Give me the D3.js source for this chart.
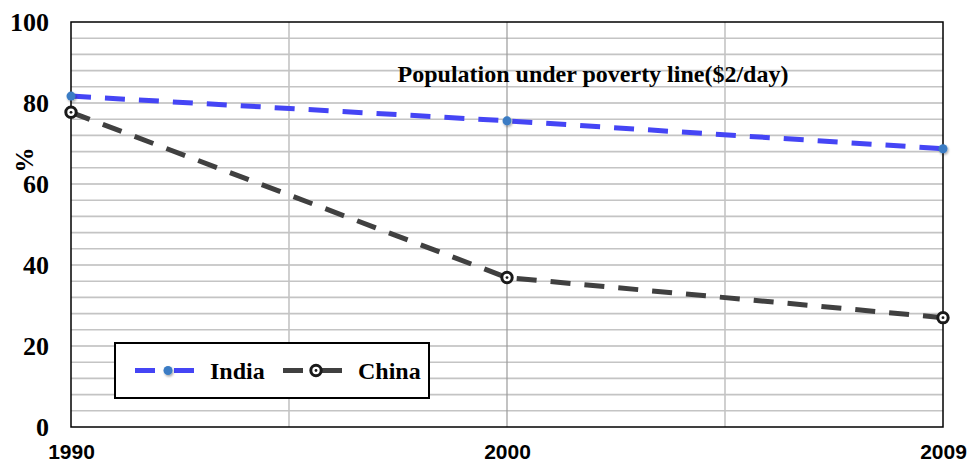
<!DOCTYPE html>
<html>
<head>
<meta charset="utf-8">
<script src="https://cdn.jsdelivr.net/npm/d3@7/dist/d3.min.js"></script>
<style>
  html, body { margin: 0; padding: 0; background: #fff; }
  svg { display: block; }
</style>
</head>
<body>
<svg id="chart" width="969" height="463"></svg>
<script>
// Share of population living under $2/day (%)
const years = ["1990", "2000", "2009"];
const india = [81.7, 75.6, 68.7];
const china = [77.7, 36.9, 27.0];
const yTicks = [0, 20, 40, 60, 80, 100];
const seriesNames = ["India", "China"];

const svg = d3.select("#chart");
const margin = { left: 71, right: 26, top: 22, bottom: 36 };
const W = 969, H = 463;
const x0 = margin.left, x1 = W - margin.right;
const y0 = H - margin.bottom, y1 = margin.top;

const serif = "'Liberation Serif', 'Times New Roman', serif";
const sans = "'Liberation Sans', Arial, sans-serif";

const x = d3.scalePoint().domain(years).range([x0, x1]);
const y = d3.scaleLinear().domain([0, 100]).range([y0, y1]);

// minor horizontal grid every 4%
const minor = d3.range(4, 100, 4).filter(v => v % 20 !== 0);
svg.append("g").selectAll("line").data(minor).join("line")
  .attr("x1", x0).attr("x2", x1)
  .attr("y1", d => y(d)).attr("y2", d => y(d))
  .attr("stroke", "#c4c4c4").attr("stroke-width", 1.6);

// major horizontal grid
svg.append("g").selectAll("line").data(yTicks.filter(v => v > 0 && v < 100)).join("line")
  .attr("x1", x0).attr("x2", x1)
  .attr("y1", d => y(d)).attr("y2", d => y(d))
  .attr("stroke", "#9a9a9a").attr("stroke-width", 1.2);

// vertical grid: midpoints between years (light), and the middle year (darker)
const mids = d3.pairs(years).map(([a, b]) => (x(a) + x(b)) / 2);
svg.append("g").selectAll("line").data(mids).join("line")
  .attr("x1", d => d).attr("x2", d => d)
  .attr("y1", y0).attr("y2", y1)
  .attr("stroke", "#c4c4c4").attr("stroke-width", 1.6);
svg.append("g").selectAll("line").data(years.slice(1, -1)).join("line")
  .attr("x1", d => x(d)).attr("x2", d => x(d))
  .attr("y1", y0).attr("y2", y1)
  .attr("stroke", "#9a9a9a").attr("stroke-width", 1.2);

// plot frame
svg.append("rect")
  .attr("x", x0).attr("y", y1)
  .attr("width", x1 - x0).attr("height", y0 - y1)
  .attr("fill", "none").attr("stroke", "#000").attr("stroke-width", 1.5);

// y axis labels
const yAxis = d3.axisLeft(y).tickValues(yTicks).tickSize(0).tickPadding(22).tickFormat(d3.format("d"));
const gy = svg.append("g").attr("transform", `translate(${x0},0)`).call(yAxis);
gy.select(".domain").remove();
gy.selectAll("text")
  .attr("font-family", serif)
  .attr("font-weight", "bold").attr("font-size", 26).attr("fill", "#000");

// x axis labels
const xAxis = d3.axisBottom(x).tickSize(0).tickPadding(17);
const gx = svg.append("g").attr("transform", `translate(0,${y0})`).call(xAxis);
gx.select(".domain").remove();
gx.selectAll("text")
  .attr("font-family", sans)
  .attr("font-weight", "bold").attr("font-size", 21).attr("fill", "#000");

// y axis title
svg.append("text")
  .attr("transform", `translate(33,160) rotate(-90)`)
  .attr("text-anchor", "middle")
  .attr("font-family", serif)
  .attr("font-weight", "bold").attr("font-size", 25)
  .text("%");

// chart title
svg.append("text")
  .attr("x", 593).attr("y", 82)
  .attr("text-anchor", "middle")
  .attr("font-family", serif)
  .attr("font-weight", "bold").attr("font-size", 24)
  .text("Population under poverty line($2/day)");

// drop shadow for India markers
const defs = svg.append("defs");
const f = defs.append("filter").attr("id", "shadow").attr("x", "-50%").attr("y", "-50%").attr("width", "200%").attr("height", "200%");
f.append("feDropShadow").attr("dx", 1).attr("dy", 1.5).attr("stdDeviation", 1.2).attr("flood-color", "#000").attr("flood-opacity", 0.35);

const line = d3.line().x((d, i) => x(years[i])).y(d => y(d));

// China series
svg.append("path").datum(china)
  .attr("d", line).attr("fill", "none")
  .attr("stroke", "#404040").attr("stroke-width", 5)
  .attr("stroke-dasharray", "20,14");

// India series
svg.append("path").datum(india)
  .attr("d", line).attr("fill", "none")
  .attr("stroke", "#4545f5").attr("stroke-width", 5)
  .attr("stroke-dasharray", "20,14");

function chinaMarker(g, cx, cy) {
  g.append("circle").attr("cx", cx).attr("cy", cy).attr("r", 5.2)
    .attr("fill", "#fff").attr("stroke", "#1a1a1a").attr("stroke-width", 3);
  g.append("circle").attr("cx", cx).attr("cy", cy).attr("r", 1.4).attr("fill", "#1a1a1a");
}
function indiaMarker(g, cx, cy) {
  g.append("circle").attr("cx", cx).attr("cy", cy).attr("r", 4.5)
    .attr("fill", "#3a7cc4").attr("filter", "url(#shadow)");
}

const gm = svg.append("g");
china.forEach((v, i) => chinaMarker(gm, x(years[i]), y(v)));
india.forEach((v, i) => indiaMarker(gm, x(years[i]), y(v)));

// legend
const lg = svg.append("g");
lg.append("rect").attr("x", 115).attr("y", 343).attr("width", 314).attr("height", 55)
  .attr("fill", "#fff").attr("stroke", "#000").attr("stroke-width", 2);
const ly = 370.5;
const legendItems = [
  { name: seriesNames[0], color: "#4545f5", lx: 135, tx: 210, marker: indiaMarker },
  { name: seriesNames[1], color: "#404040", lx: 283, tx: 358, marker: chinaMarker }
];
legendItems.forEach(it => {
  lg.append("line").attr("x1", it.lx).attr("x2", it.lx + 20).attr("y1", ly).attr("y2", ly)
    .attr("stroke", it.color).attr("stroke-width", 5);
  lg.append("line").attr("x1", it.lx + 39).attr("x2", it.lx + 59).attr("y1", ly).attr("y2", ly)
    .attr("stroke", it.color).attr("stroke-width", 5);
  it.marker(lg, it.lx + 33, ly);
  lg.append("text").attr("x", it.tx).attr("y", ly + 8)
    .attr("font-family", serif)
    .attr("font-weight", "bold").attr("font-size", 24)
    .text(it.name);
});
</script>
</body>
</html>
